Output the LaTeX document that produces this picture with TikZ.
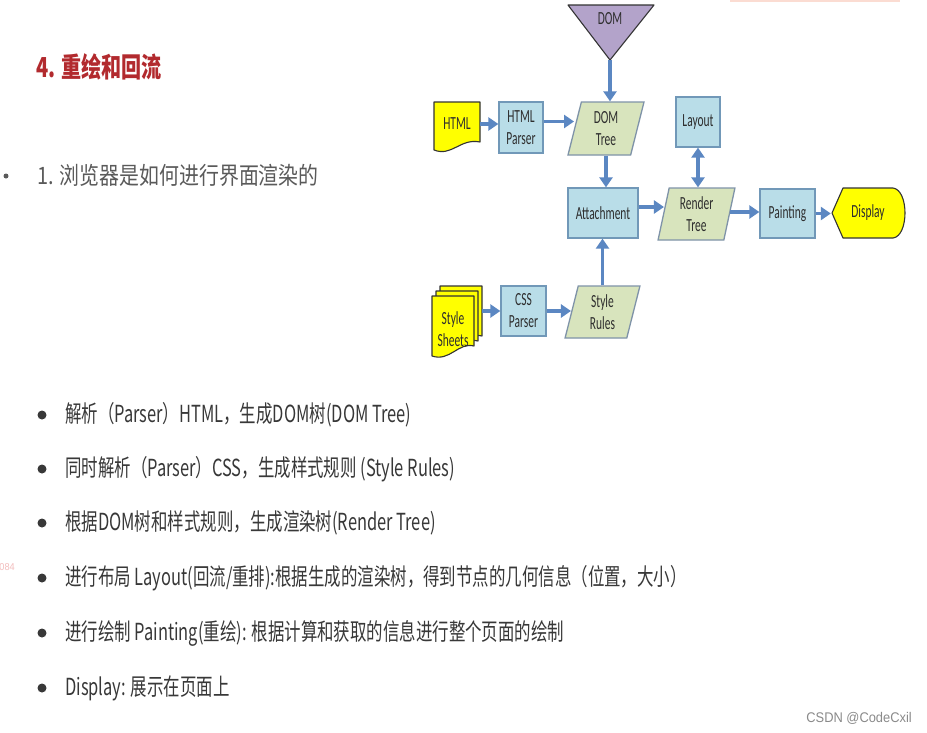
\documentclass[tikz,border=0pt]{standalone}
\usepackage{fontspec}
\usetikzlibrary{shapes.geometric,arrows.meta,calc}
\setmainfont{Noto Sans CJK SC}
\newfontfamily\diagfont[FakeStretch=0.62]{Carlito}
\newfontfamily\cjkbody[FakeStretch=0.70]{Noto Sans CJK SC}
\newfontfamily\cjksub[FakeStretch=0.83]{Noto Sans CJK SC}
\newfontfamily\cjktitle[FakeStretch=0.73]{Noto Sans CJK SC}
\newfontfamily\wmfont[FakeStretch=0.92]{Liberation Sans}
\definecolor{titlered}{HTML}{B22A2E}
\definecolor{subgray}{HTML}{5A5A5A}
\definecolor{bodytext}{HTML}{383838}
\definecolor{boxfill}{HTML}{B9DDE8}
\definecolor{boxline}{HTML}{7198B8}
\definecolor{parafill}{HTML}{D8E4BD}
\definecolor{paraline}{HTML}{7F93A8}
\definecolor{arrowc}{HTML}{5B87C2}
\definecolor{docyellow}{HTML}{FFFF00}
\definecolor{domfill}{HTML}{B3A3CA}
\definecolor{diagtext}{HTML}{2E2E2E}
\definecolor{wmgray}{HTML}{8A8A8A}
\definecolor{pinkbar}{HTML}{FBDCD2}
\definecolor{fadedred}{HTML}{F3BDBD}
\tikzset{
  dfont/.style={font=\diagfont\fontsize{18.5}{22}\selectfont, text=diagtext, align=center},
  box/.style={dfont, rectangle, draw=boxline, fill=boxfill, line width=1.3pt, inner sep=0pt},
  para/.style={dfont, trapezium, trapezium left angle=79, trapezium right angle=101,
    trapezium stretches=true, draw=paraline, fill=parafill, line width=1.3pt, inner sep=0pt},
  plainnode/.style={dfont, inner sep=0pt},
  docshape/.style={fill=docyellow, draw=black!80, line width=1.1pt, line join=round},
  arr/.style={draw=arrowc, line width=3.2pt, -{Triangle[length=10pt,width=13pt]}},
  arrboth/.style={draw=arrowc, line width=3.2pt, {Triangle[length=10pt,width=13pt]}-{Triangle[length=10pt,width=13pt]}},
  bulletdot/.style={circle, fill=bodytext, inner sep=0pt, minimum size=9pt},
  bodyline/.style={anchor=west, inner sep=0pt, text=bodytext, font=\cjkbody\fontsize{23.5}{26}\selectfont}
}
\begin{document}
\begin{tikzpicture}[x=1pt,y=-1pt]
\useasboundingbox (0,0) rectangle (927,732);
\fill[white] (0,0) rectangle (927,732);
\fill[pinkbar] (730,0) rectangle (900,1.5);

% headings
\node[anchor=west, inner sep=0pt, text=titlered, font=\cjktitle\bfseries\fontsize{27.5}{30}\selectfont] (title) at (36,67) {4. 重绘和回流};
\node[circle, fill=subgray, inner sep=0pt, minimum size=5pt] (subdot) at (6,176) {};
\node[anchor=west, inner sep=0pt, text=subgray, font=\cjksub\fontsize{24}{28}\selectfont] (sub) at (37,175) {1. 浏览器是如何进行界面渲染的};

% diagram: DOM triangle
\draw[fill=domfill, draw=black!80, line width=1.1pt, line join=round] (568,5) -- (654,5) -- (610,60) -- cycle;
\node[plainnode] (dom) at (610,19) {DOM};
\coordinate (domtip) at (610,60);

% HTML document
\draw[docshape] (434,102) -- (480,102) -- (480,142) .. controls (460,138) and (452,157) .. (434,150) -- cycle;
\node[plainnode, minimum width=46pt, minimum height=40pt] (html) at (457,124) {HTML};

% style sheets stack
\foreach \dx/\dy in {8/-10, 4/-5, 0/0}{
  \draw[docshape] (432+\dx,296+\dy) -- (474+\dx,296+\dy) -- (474+\dx,346+\dy)
     .. controls (458+\dx,342+\dy) and (450+\dx,362+\dy) .. (432+\dx,356+\dy) -- cycle;
}
\node[plainnode, minimum width=58pt, minimum height=40pt] (sheets) at (453,329) {Style\\Sheets};

% boxes
\node[box, minimum width=44pt, minimum height=51pt] (hparser) at (521,127.5) {HTML\\Parser};
\node[box, minimum width=44pt, minimum height=50pt] (layout) at (698,122) {Layout};
\node[box, minimum width=70pt, minimum height=50pt] (attach) at (603,213) {Attachment};
\node[box, minimum width=55pt, minimum height=49pt] (paint) at (787.5,213.5) {Painting};
\node[box, minimum width=45pt, minimum height=50pt] (cssparser) at (523.5,311) {CSS\\Parser};

% parallelograms
\node[para, minimum width=76pt, minimum height=53pt] (domtree) at (606,128.5) {DOM\\Tree};
\node[para, minimum width=77pt, minimum height=52pt] (render) at (696.5,214) {Render\\Tree};
\node[para, minimum width=75pt, minimum height=52pt] (rules) at (602.5,312) {Style\\Rules};

% display
\draw[docshape] (832,213) -- (843,188) -- (893,188) .. controls (909,190) and (909,236) .. (893,238) -- (843,238) -- cycle;
\node[plainnode, minimum width=74pt, minimum height=50pt] (display) at (868,213) {Display};

% connectors
\draw[arr] (html.east) -- (html.east -| hparser.west);
\draw[arr] ([yshift=6pt]hparser.east) -- ([yshift=6pt]hparser.east -| domtree.west);
\draw[arr] (domtip) -- (domtip |- domtree.north);
\draw[arr] (domtree.south) -- (domtree.south |- attach.north);
\draw[arr] ([yshift=6pt]attach.east) -- ([yshift=6pt,xshift=1pt]attach.east -| render.west);
\draw[arr] ([yshift=2pt]render.east) -- ([yshift=2pt]render.east -| paint.west);
\draw[arr] (paint.east) -- (paint.east -| display.west);
\draw[arrboth] (layout.south) -- (layout.south |- render.north);
\draw[arr] (rules.north) -- (rules.north |- attach.south);
\draw[arr] (cssparser.west -| sheets.east) -- (cssparser.west);
\draw[arr] (cssparser.east) -- (cssparser.east -| rules.west);

% bullet list
\foreach \n/\y in {1/415, 2/469, 3/523, 4/578, 5/633, 6/688}{
  \node[bulletdot] (b\n) at (42,\y) {};
}
\node[bodyline] (t1) at (65,415) {解析（Parser）HTML，生成DOM树(DOM Tree)};
\node[bodyline] (t2) at (65,469) {同时解析（Parser）CSS，生成样式规则 (Style Rules)};
\node[bodyline] (t3) at (65,523) {根据DOM树和样式规则，生成渲染树(Render Tree)};
\node[bodyline] (t4) at (65,578) {进行布局 Layout(回流/重排):根据生成的渲染树，得到节点的几何信息（位置，大小）};
\node[bodyline] (t5) at (65,633) {进行绘制 Painting(重绘): 根据计算和获取的信息进行整个页面的绘制};
\node[bodyline] (t6) at (65,688) {Display: 展示在页面上};

% artefacts
\node[anchor=east, inner sep=0pt, text=fadedred, font=\wmfont\fontsize{10}{12}\selectfont] (faint) at (15,567) {084};
\node[anchor=east, inner sep=0pt, text=wmgray, font=\wmfont\fontsize{14}{16}\selectfont] (wm) at (912,718) {CSDN @CodeCxil};
\end{tikzpicture}
\end{document}
